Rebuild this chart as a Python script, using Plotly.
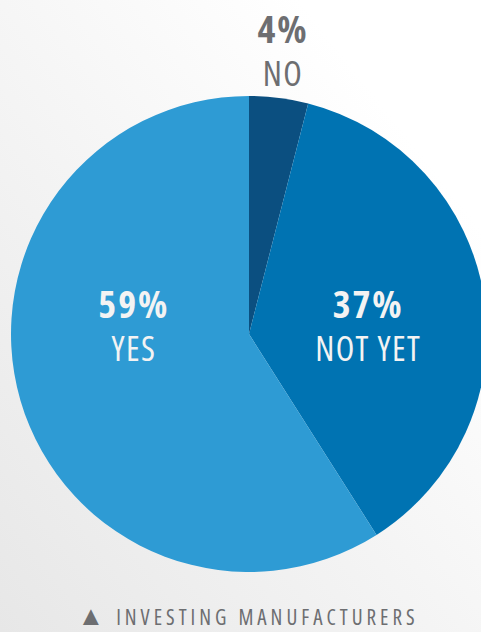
import plotly.graph_objects as go

# Survey answers: share of investing manufacturers
labels = ["NO", "NOT YET", "YES"]
values = [4, 37, 59]
colors = ["#0b4f80", "#0073b2", "#2e9bd4"]
footer_marker = "\u25B2"
footer = "INVESTING MANUFACTURERS"

W, H = 500, 632

# Soft diagonal backdrop: white top-right fading to light grey bottom-left
bg_svg = (
    "data:image/svg+xml;utf8,"
    "<svg xmlns='http://www.w3.org/2000/svg' width='500' height='632' preserveAspectRatio='none'>"
    "<defs><linearGradient id='g' x1='1' y1='0' x2='0' y2='1'>"
    "<stop offset='0.2' stop-color='%23ffffff'/>"
    "<stop offset='1' stop-color='%23e7e7e7'/>"
    "</linearGradient></defs>"
    "<rect width='500' height='632' fill='url(%23g)'/></svg>"
)

fig = go.Figure(
    go.Pie(
        labels=labels,
        values=values,
        marker=dict(colors=colors, line=dict(width=0)),
        sort=False,
        direction="clockwise",
        rotation=0,
        textinfo="none",
        hoverinfo="label+percent",
        showlegend=False,
        domain=dict(x=[11 / W, 487 / W], y=[60 / H, 536 / H]),
    )
)

white = "#f3f3f3"
grey = "#6d6e71"
font_family = "Open Sans, sans-serif"

# centre of each two-line slice label (pixels from top-left) and its colour
label_pos = {
    "NO": (283, 49, grey),
    "NOT YET": (368, 324, white),
    "YES": (134, 324, white),
}

annotations = []
for lab, val in zip(labels, values):
    x, y, c = label_pos[lab]
    annotations.append(dict(
        x=x / W, y=1 - y / H, xref="paper", yref="paper",
        text=(f"<b><span style='font-size:38px'>{val}%</span></b><br>"
              f"<span style='font-size:34px'>{lab}</span>"),
        showarrow=False,
        font=dict(family=font_family, size=33, color=c),
        xanchor="center", yanchor="middle",
    ))

annotations.append(dict(
    x=248 / W, y=0, xref="paper", yref="paper",
    text=f"<span style='font-size:27px'>{footer_marker}</span> {footer}",
    showarrow=False,
    font=dict(family=font_family, size=21, color="#6d6e71"),
    xanchor="center", yanchor="bottom", yshift=-3,
))

fig.update_layout(
    width=W, height=H,
    margin=dict(l=0, r=0, t=0, b=0),
    paper_bgcolor="#f4f4f4",
    plot_bgcolor="rgba(0,0,0,0)",
    annotations=annotations,
    images=[dict(
        source=bg_svg, xref="paper", yref="paper",
        x=0, y=1, sizex=1, sizey=1, xanchor="left", yanchor="top",
        sizing="stretch", layer="below",
    )],
)

# Crop the overflowing right edge, use a condensed face and open up the tracking
post = """
document.body.style.margin = '0';
document.body.style.overflow = 'hidden';
document.documentElement.style.overflow = 'hidden';
var gd = document.getElementById('{plot_id}');
gd.querySelectorAll('.annotation-text').forEach(function(t) {
  t.style.fontStretch = '75%';
  if (t.textContent.indexOf('INVESTING') >= 0) {
    t.style.letterSpacing = '4px';
  } else {
    t.style.letterSpacing = '1.4px';
    t.querySelectorAll('tspan').forEach(function(s) {
      if ((s.getAttribute('style') || '').indexOf('bold') >= 0) {
        s.style.letterSpacing = '2px';
      }
    });
  }
});
"""

fig.write_html("out.html", post_script=post, config={"displayModeBar": False})
